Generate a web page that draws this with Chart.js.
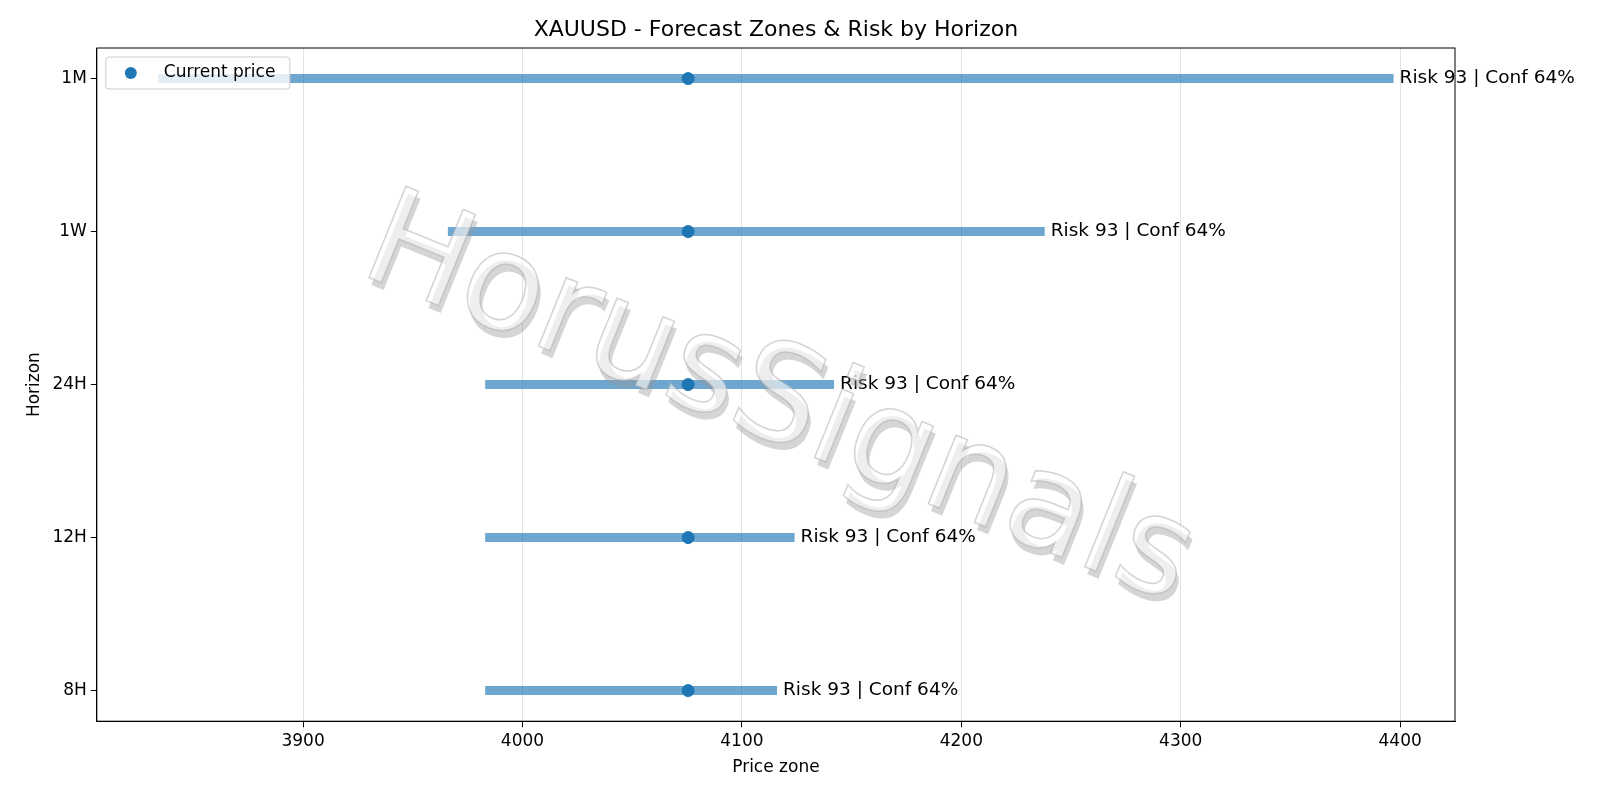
<!DOCTYPE html>
<html>
<head>
<meta charset="utf-8">
<script src="https://cdn.jsdelivr.net/npm/chart.js@4"></script>
<style>
  body { margin: 0; background: #fff; }
  #wrap { width: 1600px; height: 800px; }
</style>
</head>
<body>
<div id="wrap"><canvas id="chart"></canvas></div>
<script>
const horizons = ['1M', '1W', '24H', '12H', '8H'];
const zoneLow = [3834, 3966, 3983, 3983, 3983];
const zoneHigh = [4397, 4238, 4142, 4124, 4116];
const currentPrice = [4075.5, 4075.5, 4075.5, 4075.5, 4075.5];
const riskScore = [93, 93, 93, 93, 93];
const confidence = [64, 64, 64, 64, 64];
const xTicks = [3900, 4000, 4100, 4200, 4300, 4400];

const font = 'DejaVu Sans';
const blue = '#1f77b4';

const zoneSets = horizons.map((h, i) => ({
  type: 'line',
  label: h,
  data: [{ x: zoneLow[i], y: i }, { x: zoneHigh[i], y: i }],
  borderColor: 'rgba(31,119,180,0.65)',
  borderWidth: 9,
  borderCapStyle: 'butt',
  pointRadius: 0
}));

const overlay = {
  id: 'overlay',
  afterDatasetsDraw(chart) {
    const { ctx, scales: { x, y }, chartArea } = chart;
    ctx.save();
    ctx.font = '18.5px ' + font;
    ctx.fillStyle = '#000';
    ctx.textBaseline = 'middle';
    horizons.forEach((h, i) => {
      ctx.fillText('Risk ' + riskScore[i] + ' | Conf ' + confidence[i] + '%',
        x.getPixelForValue(zoneHigh[i]) + 6, y.getPixelForValue(i));
    });
    // title, centred over the plot area
    ctx.font = '22px ' + font;
    ctx.textAlign = 'center';
    ctx.fillText('XAUUSD - Forecast Zones & Risk by Horizon', (chartArea.left + chartArea.right) / 2, 30);
    // watermark
    ctx.translate(778, 405);
    ctx.rotate(22 * Math.PI / 180);
    ctx.font = '135px ' + font;
    ctx.fillStyle = 'rgba(150,150,150,0.4)';
    ctx.fillText('HorusSignals', 5, 6);
    ctx.fillStyle = 'rgba(255,255,255,0.6)';
    ctx.fillText('HorusSignals', 0, 0);
    ctx.strokeStyle = 'rgba(170,170,170,0.5)';
    ctx.lineWidth = 1.5;
    ctx.strokeText('HorusSignals', 0, 0);
    ctx.restore();
    // legend
    ctx.save();
    const lx = chartArea.left + 9, ly = chartArea.top + 9;
    ctx.fillStyle = 'rgba(255,255,255,0.8)';
    ctx.strokeStyle = '#ccc';
    ctx.lineWidth = 1;
    ctx.beginPath();
    ctx.roundRect(lx, ly, 184, 32, 3);
    ctx.fill();
    ctx.stroke();
    ctx.fillStyle = blue;
    ctx.beginPath();
    ctx.arc(lx + 25, ly + 16, 6, 0, Math.PI * 2);
    ctx.fill();
    ctx.fillStyle = '#000';
    ctx.font = '17px ' + font;
    ctx.textBaseline = 'middle';
    ctx.fillText('Current price', lx + 58, ly + 16);
    ctx.restore();
  }
};

new Chart(document.getElementById('chart'), {
  type: 'scatter',
  data: {
    datasets: [
      ...zoneSets,
      {
        type: 'scatter',
        label: 'Current price',
        data: currentPrice.map((p, i) => ({ x: p, y: i })),
        backgroundColor: blue,
        borderColor: blue,
        pointRadius: 6
      }
    ]
  },
  options: {
    responsive: true,
    maintainAspectRatio: false,
    animation: false,
    layout: { padding: { left: 20, right: 145, top: 48, bottom: 20 } },
    plugins: {
      legend: { display: false },
      tooltip: { enabled: false },
      title: { display: false }
    },
    scales: {
      x: {
        type: 'linear',
        min: 3806,
        max: 4425,
        afterBuildTicks: s => { s.ticks = xTicks.map(v => ({ value: v })); },
        grid: { color: '#e3e3e3', drawTicks: true, tickLength: 6, tickColor: '#000' },
        border: { color: '#000', width: 1 },
        ticks: { color: '#000', font: { family: font, size: 17 }, padding: 4, maxRotation: 0, callback: v => String(v) },
        title: { display: true, text: 'Price zone', color: '#000', font: { family: font, size: 17 }, padding: 2 }
      },
      y: {
        type: 'linear',
        reverse: true,
        min: -0.2,
        max: 4.2,
        afterBuildTicks: s => { s.ticks = horizons.map((h, i) => ({ value: i })); },
        grid: { display: true, drawOnChartArea: false, tickLength: 6, tickColor: '#000' },
        border: { color: '#000', width: 1 },
        ticks: { color: '#000', font: { family: font, size: 17 }, callback: v => horizons[v], padding: 4 },
        title: { display: true, text: 'Horizon', color: '#000', font: { family: font, size: 17 }, padding: 4 }
      }
    }
  },
  plugins: [overlay, {
    id: 'frame',
    afterDraw(chart) {
      const { ctx, chartArea: a } = chart;
      ctx.save();
      ctx.strokeStyle = '#000';
      ctx.lineWidth = 1;
      ctx.strokeRect(a.left, a.top, a.right - a.left, a.bottom - a.top);
      ctx.restore();
    }
  }]
});
</script>
</body>
</html>
